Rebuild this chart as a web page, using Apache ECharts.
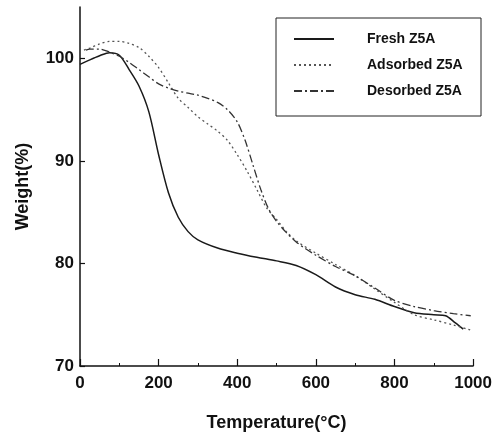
<!DOCTYPE html>
<html>
<head>
<meta charset="utf-8">
<script src="https://cdn.jsdelivr.net/npm/echarts@6/dist/echarts.min.js"></script>
<style>
html,body{margin:0;padding:0;background:#fff;}
#chart{width:495px;height:437px;}
</style>
</head>
<body>
<div id="chart"></div>
<script>
// Data
var seriesNames = ['Fresh Z5A', 'Adsorbed Z5A', 'Desorbed Z5A'];
var xTicks = [0, 200, 400, 600, 800, 1000];
var yTicks = [70, 80, 90, 100];

var freshT = [0, 25, 50, 75, 100, 125, 150, 175, 200, 225, 250, 275, 300, 350, 400, 450, 500, 550, 600, 650, 700, 750, 800, 850, 900, 930, 955, 975];
var freshW = [99.4, 99.85, 100.25, 100.55, 100.3, 98.9, 97.3, 94.8, 90.6, 86.9, 84.5, 83.1, 82.3, 81.5, 81.0, 80.6, 80.25, 79.8, 78.9, 77.7, 76.95, 76.5, 75.8, 75.2, 75.0, 74.9, 74.2, 73.6];

var adsorbedT = [10, 25, 50, 75, 100, 125, 150, 175, 200, 225, 250, 275, 300, 325, 350, 375, 400, 425, 450, 475, 500, 525, 550, 600, 650, 700, 750, 800, 850, 900, 950, 994];
var adsorbedW = [100.8, 101.0, 101.4, 101.65, 101.65, 101.45, 101.05, 100.2, 99.1, 97.6, 96.1, 95.2, 94.3, 93.6, 92.9, 92.0, 90.6, 89.0, 87.2, 85.4, 84.3, 83.1, 82.2, 81.0, 79.9, 78.8, 77.5, 76.2, 75.0, 74.5, 74.0, 73.5];

var desorbedT = [15, 25, 50, 75, 100, 125, 150, 175, 200, 225, 250, 275, 300, 325, 350, 375, 400, 420, 440, 460, 480, 500, 525, 550, 575, 600, 650, 700, 750, 800, 850, 900, 950, 994];
var desorbedW = [100.8, 100.9, 100.9, 100.6, 100.2, 99.6, 98.9, 98.2, 97.5, 97.1, 96.8, 96.6, 96.4, 96.1, 95.7, 95.0, 93.8, 92.0, 89.6, 87.2, 85.3, 84.1, 83.0, 82.1, 81.4, 80.8, 79.7, 78.8, 77.6, 76.4, 75.8, 75.4, 75.1, 74.9];

function pairs(t, w) {
  var out = [];
  for (var i = 0; i < t.length; i++) out.push([t[i], w[i]]);
  return out;
}

var chart = echarts.init(document.getElementById('chart'), null, {renderer: 'canvas'});
var labelFont = {color: '#111', fontFamily: 'Liberation Sans', fontWeight: 'bold', fontSize: 17};
var nameFont = {color: '#111', fontFamily: 'Liberation Sans', fontWeight: 'bold', fontSize: 18};

chart.setOption({
  animation: false,
  backgroundColor: '#fff',
  grid: {left: 80, right: 21, top: 7, bottom: 68, containLabel: false},
  legend: {
    orient: 'vertical',
    left: 293,
    top: 32,
    itemWidth: 40,
    itemHeight: 10,
    itemGap: 12,
    padding: 0,
    data: seriesNames,
    itemStyle: {opacity: 0},
    textStyle: {color: '#111', fontFamily: 'Liberation Sans', fontWeight: 'bold', fontSize: 14, padding: [0, 0, 0, 28]}
  },
  graphic: [{
    type: 'rect',
    shape: {x: 276, y: 18, width: 205, height: 98},
    style: {fill: 'none', stroke: '#222', lineWidth: 1},
    z: 100
  }],
  xAxis: {
    type: 'value',
    min: xTicks[0],
    max: xTicks[xTicks.length - 1],
    interval: xTicks[1] - xTicks[0],
    name: 'Temperature(\u00B0C)',
    nameLocation: 'middle',
    nameGap: 48,
    nameTextStyle: nameFont,
    axisLine: {show: true, lineStyle: {color: '#111', width: 1.5}},
    axisTick: {show: true, inside: true, length: 7, lineStyle: {color: '#111', width: 1.2}},
    minorTick: {show: true, splitNumber: 2, length: 3, lineStyle: {color: '#111', width: 1}},
    axisLabel: Object.assign({margin: 9, formatter: function (v) { return String(v); }}, labelFont),
    splitLine: {show: false}
  },
  yAxis: {
    type: 'value',
    min: yTicks[0],
    max: 105,
    interval: yTicks[1] - yTicks[0],
    name: 'Weight(%)',
    nameLocation: 'middle',
    nameGap: 48,
    nameTextStyle: nameFont,
    axisLine: {show: true, lineStyle: {color: '#111', width: 1.5}},
    axisTick: {show: true, inside: true, length: 5, lineStyle: {color: '#111', width: 1.2}},
    axisLabel: Object.assign({margin: 6, showMaxLabel: false, formatter: function (v) { return String(v); }}, labelFont),
    splitLine: {show: false}
  },
  series: [
    {
      name: seriesNames[0], type: 'line', smooth: 0.3, symbol: 'none',
      data: pairs(freshT, freshW),
      lineStyle: {color: '#1a1a1a', width: 1.5, type: 'solid'},
      itemStyle: {color: '#1a1a1a'}
    },
    {
      name: seriesNames[1], type: 'line', smooth: 0.3, symbol: 'none',
      data: pairs(adsorbedT, adsorbedW),
      lineStyle: {color: '#555', width: 1.3, type: [2, 3]},
      itemStyle: {color: '#555'}
    },
    {
      name: seriesNames[2], type: 'line', smooth: 0.3, symbol: 'none',
      data: pairs(desorbedT, desorbedW),
      lineStyle: {color: '#333', width: 1.3, type: [8, 3, 2, 3]},
      itemStyle: {color: '#333'}
    }
  ]
});
</script>
</body>
</html>
